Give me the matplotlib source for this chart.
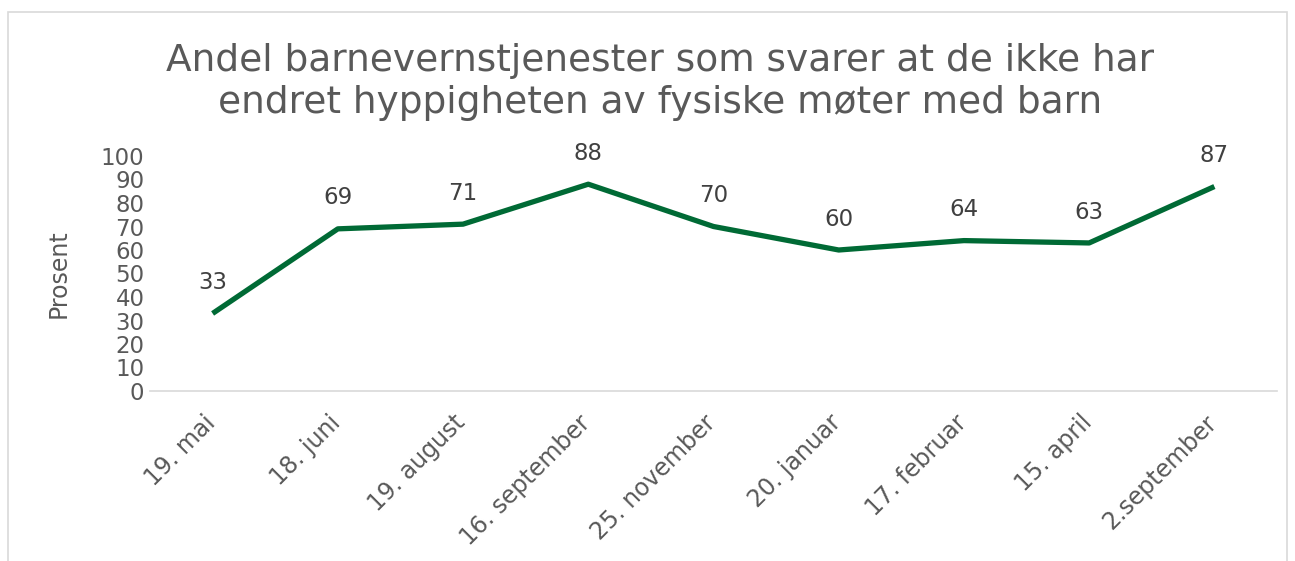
import matplotlib
matplotlib.use("Agg")
import matplotlib.pyplot as plt
from matplotlib.patches import Rectangle

categories = ["19. mai", "18. juni", "19. august", "16. september", "25. november",
              "20. januar", "17. februar", "15. april", "2.september"]
values = [33, 69, 71, 88, 70, 60, 64, 63, 87]
yticks = [0, 10, 20, 30, 40, 50, 60, 70, 80, 90, 100]
title = "Andel barnevernstjenester som svarer at de ikke har\nendret hyppigheten av fysiske møter med barn"

plt.rcParams['font.family'] = ['DejaVu Sans']
fig = plt.figure(figsize=(12.95, 5.61), dpi=100)
ax = fig.add_axes([150/1295, (561-391)/561, (1277-150)/1295, (391-156)/561])

x = list(range(len(categories)))
ax.plot(x, values, color="#006A35", lw=3.8, solid_capstyle="butt", solid_joinstyle="round")
for xi, v in zip(x, values):
    ax.annotate(str(v), (xi, v), xytext=(0, 14), textcoords="offset points",
                ha="center", va="bottom", fontsize=16.5, color="#404040")

ax.set_xlim(-0.5, len(categories) - 0.5)
ax.set_ylim(0, 100)
ax.set_yticks(yticks)
ax.set_yticklabels([str(t) for t in yticks], fontsize=16.5, color="#595959")
ax.set_xticks(x)
ax.set_xticklabels([])
for xi, lab in zip(x, categories):
    ax.annotate(lab, (xi, 0), xytext=(-7, -14), textcoords="offset points",
                ha="right", va="top", rotation=45, rotation_mode="anchor",
                fontsize=17, color="#595959", annotation_clip=False)
ax.tick_params(axis="both", length=0)
ax.tick_params(axis="y", pad=4)
for s in ["top", "right", "left"]:
    ax.spines[s].set_visible(False)
ax.spines["bottom"].set_color("#d9d9d9")
ax.spines["bottom"].set_linewidth(1.2)
ax.set_ylabel("Prosent", fontsize=17, color="#595959")
ax.yaxis.set_label_coords(-0.07, 0.5)

fig.text(660/1295, 1 - 82/561, title, ha="center", va="center", fontsize=27,
         color="#595959", linespacing=1.2)

fig.patches.append(Rectangle((8/1295, -0.1), (1287-8)/1295, 1.1 - 12/561,
                             transform=fig.transFigure, fill=False,
                             edgecolor="#d9d9d9", lw=1.2))

fig.savefig("out.png", dpi=100)
